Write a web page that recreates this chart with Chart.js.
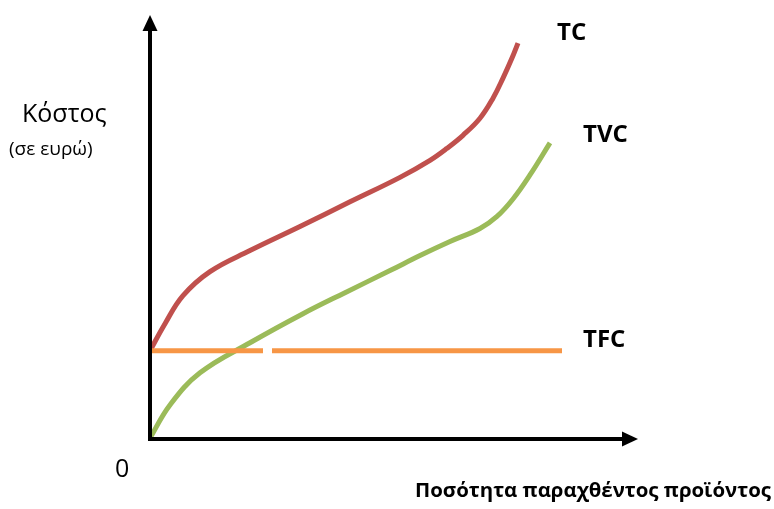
<!DOCTYPE html>
<html>
<head>
<meta charset="utf-8">
<script src="https://cdn.jsdelivr.net/npm/chart.js@4/dist/chart.umd.min.js"></script>
<style>
  html, body { margin: 0; padding: 0; background: #fff; }
  #wrap { width: 774px; height: 509px; position: relative; }
</style>
</head>
<body>
<div id="wrap"><canvas id="cost-chart" width="774" height="509"></canvas></div>
<script>
// quantity (x) and cost (y) values
var tcX  = [0, 3.75, 8.25, 15, 25, 37.5, 50, 62.5, 70, 74.25, 78.25, 82.5, 85.75, 88.25, 90.5, 92];
var tcY  = [21.75, 28.5, 35.5, 41.5, 46.75, 52.75, 58.9, 65, 69.25, 72.25, 75.5, 79.75, 84.75, 89.75, 94.75, 98.5];
var tvcX = [0, 5, 12.5, 25, 38.25, 48.75, 60, 67.5, 75, 82.5, 86.75, 90.75, 95, 100];
var tvcY = [0, 8.25, 16.25, 23.75, 31, 36.25, 41.75, 45.5, 49, 52.25, 55.25, 59.6, 65.6, 73.6];
// TFC is flat, with a small break where it was cut in the original
var tfcX = [0, 28.25, null, 30.5, 103];
var tfcY = [21.75, 21.75, null, 21.75, 21.75];

var seriesNames = ["TC", "TVC", "TFC"];
var yTitle = "Κόστος";
var ySubTitle = "(σε ευρώ)";
var xTitle = "Ποσότητα παραχθέντος προϊόντος";
var originLabel = "0";

function pts(xs, ys) {
  var out = [];
  for (var i = 0; i < xs.length; i++) {
    if (xs[i] === null) out.push({x: (xs[i - 1] + xs[i + 1]) / 2, y: null});
    else out.push({x: xs[i], y: ys[i]});
  }
  return out;
}

var fontFam = '"Open Sans", "Noto Sans", sans-serif';

// draws the arrow axes and the labels
var decorations = {
  id: 'decorations',
  afterDraw: function (chart) {
    var ctx = chart.ctx;
    var xs = chart.scales.x, ys = chart.scales.y;
    var ox = xs.getPixelForValue(0), oy = ys.getPixelForValue(0);
    var xEnd = xs.getPixelForValue(xs.max), yEnd = ys.getPixelForValue(ys.max);
    ctx.save();
    ctx.strokeStyle = '#000';
    ctx.fillStyle = '#000';
    ctx.lineWidth = 4;
    ctx.beginPath();
    ctx.moveTo(ox, oy + 3);
    ctx.lineTo(ox, yEnd + 14);
    ctx.moveTo(ox - 2, oy + 1);
    ctx.lineTo(xEnd - 14, oy + 1);
    ctx.stroke();
    // arrow heads
    ctx.beginPath();
    ctx.moveTo(ox, yEnd);
    ctx.lineTo(ox - 7.5, yEnd + 16);
    ctx.lineTo(ox + 7.5, yEnd + 16);
    ctx.closePath();
    ctx.fill();
    ctx.beginPath();
    ctx.moveTo(xEnd, oy + 1);
    ctx.lineTo(xEnd - 16, oy + 1 - 7.5);
    ctx.lineTo(xEnd - 16, oy + 1 + 7.5);
    ctx.closePath();
    ctx.fill();

    ctx.textBaseline = 'alphabetic';
    ctx.textAlign = 'left';
    ctx.font = 'bold 24px ' + fontFam;
    ctx.fillText(seriesNames[0], 557, 40);
    ctx.fillText(seriesNames[1], 583, 142);
    ctx.fillText(seriesNames[2], 583, 347);

    ctx.font = '25px ' + fontFam;
    ctx.fillText(yTitle, 22, 122);
    ctx.font = '19px ' + fontFam;
    ctx.fillText(ySubTitle, 9, 155);
    ctx.font = '25px ' + fontFam;
    ctx.fillText(originLabel, 115, 477);
    ctx.font = 'bold 20.4px ' + fontFam;
    ctx.fillText(xTitle, 415, 497);
    ctx.restore();
  }
};

var ctx = document.getElementById('cost-chart');
var chart = new Chart(ctx, {
  type: 'line',
  data: {
    datasets: [{
      label: seriesNames[2],
      data: pts(tfcX, tfcY),
      borderColor: '#F79646',
      borderWidth: 5,
      spanGaps: false
    }, {
      label: seriesNames[1],
      data: pts(tvcX, tvcY),
      borderColor: '#9BBB59',
      borderWidth: 5,
      tension: 0.4
    }, {
      label: seriesNames[0],
      data: pts(tcX, tcY),
      borderColor: '#C0504D',
      borderWidth: 5,
      tension: 0.4
    }]
  },
  options: {
    responsive: false,
    animation: false,
    layout: { padding: { left: 150, right: 136, top: 15, bottom: 71 } },
    elements: { point: { radius: 0 } },
    scales: {
      x: { type: 'linear', min: 0, max: 122, display: false },
      y: { type: 'linear', min: 0, max: 105.5, display: false }
    },
    plugins: {
      legend: { display: false },
      tooltip: { enabled: false }
    }
  },
  plugins: [decorations]
});
</script>
</body>
</html>
